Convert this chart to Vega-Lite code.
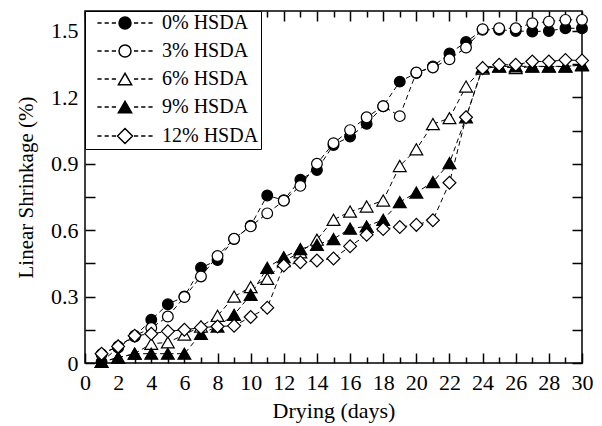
{
  "$schema": "https://vega.github.io/schema/vega-lite/v6.json",
  "autosize": {"type": "none"},
  "padding": {"left": 85, "top": 11, "right": 20, "bottom": 63},
  "width": 497,
  "height": 352,
  "background": "white",
  "data": {"values": [
    {"series":"0% HSDA","day":1,"value":0.005},{"series":"0% HSDA","day":2,"value":0.07},{"series":"0% HSDA","day":3,"value":0.12},{"series":"0% HSDA","day":4,"value":0.195},{"series":"0% HSDA","day":5,"value":0.265},{"series":"0% HSDA","day":6,"value":0.3},{"series":"0% HSDA","day":7,"value":0.43},{"series":"0% HSDA","day":8,"value":0.465},{"series":"0% HSDA","day":9,"value":0.56},{"series":"0% HSDA","day":10,"value":0.62},{"series":"0% HSDA","day":11,"value":0.757},{"series":"0% HSDA","day":12,"value":0.735},{"series":"0% HSDA","day":13,"value":0.828},{"series":"0% HSDA","day":14,"value":0.872},{"series":"0% HSDA","day":15,"value":0.985},{"series":"0% HSDA","day":16,"value":1.023},{"series":"0% HSDA","day":17,"value":1.08},{"series":"0% HSDA","day":18,"value":1.16},{"series":"0% HSDA","day":19,"value":1.271},{"series":"0% HSDA","day":20,"value":1.31},{"series":"0% HSDA","day":21,"value":1.34},{"series":"0% HSDA","day":22,"value":1.398},{"series":"0% HSDA","day":23,"value":1.45},{"series":"0% HSDA","day":24,"value":1.505},{"series":"0% HSDA","day":25,"value":1.505},{"series":"0% HSDA","day":26,"value":1.5},{"series":"0% HSDA","day":27,"value":1.497},{"series":"0% HSDA","day":28,"value":1.5},{"series":"0% HSDA","day":29,"value":1.512},{"series":"0% HSDA","day":30,"value":1.512},
    {"series":"3% HSDA","day":1,"value":0.04},{"series":"3% HSDA","day":2,"value":0.075},{"series":"3% HSDA","day":3,"value":0.123},{"series":"3% HSDA","day":4,"value":0.158},{"series":"3% HSDA","day":5,"value":0.21},{"series":"3% HSDA","day":6,"value":0.298},{"series":"3% HSDA","day":7,"value":0.391},{"series":"3% HSDA","day":8,"value":0.483},{"series":"3% HSDA","day":9,"value":0.561},{"series":"3% HSDA","day":10,"value":0.617},{"series":"3% HSDA","day":11,"value":0.676},{"series":"3% HSDA","day":12,"value":0.733},{"series":"3% HSDA","day":13,"value":0.8},{"series":"3% HSDA","day":14,"value":0.9},{"series":"3% HSDA","day":15,"value":0.993},{"series":"3% HSDA","day":16,"value":1.052},{"series":"3% HSDA","day":17,"value":1.11},{"series":"3% HSDA","day":18,"value":1.16},{"series":"3% HSDA","day":19,"value":1.115},{"series":"3% HSDA","day":20,"value":1.312},{"series":"3% HSDA","day":21,"value":1.335},{"series":"3% HSDA","day":22,"value":1.372},{"series":"3% HSDA","day":23,"value":1.425},{"series":"3% HSDA","day":24,"value":1.508},{"series":"3% HSDA","day":25,"value":1.512},{"series":"3% HSDA","day":26,"value":1.512},{"series":"3% HSDA","day":27,"value":1.535},{"series":"3% HSDA","day":28,"value":1.542},{"series":"3% HSDA","day":29,"value":1.55},{"series":"3% HSDA","day":30,"value":1.55},
    {"series":"6% HSDA","day":1,"value":0.005},{"series":"6% HSDA","day":2,"value":0.024},{"series":"6% HSDA","day":3,"value":0.042},{"series":"6% HSDA","day":4,"value":0.087},{"series":"6% HSDA","day":5,"value":0.093},{"series":"6% HSDA","day":6,"value":0.128},{"series":"6% HSDA","day":7,"value":0.165},{"series":"6% HSDA","day":8,"value":0.213},{"series":"6% HSDA","day":9,"value":0.3},{"series":"6% HSDA","day":10,"value":0.343},{"series":"6% HSDA","day":11,"value":0.38},{"series":"6% HSDA","day":12,"value":0.46},{"series":"6% HSDA","day":13,"value":0.5},{"series":"6% HSDA","day":14,"value":0.557},{"series":"6% HSDA","day":15,"value":0.647},{"series":"6% HSDA","day":16,"value":0.684},{"series":"6% HSDA","day":17,"value":0.707},{"series":"6% HSDA","day":18,"value":0.734},{"series":"6% HSDA","day":19,"value":0.89},{"series":"6% HSDA","day":20,"value":0.965},{"series":"6% HSDA","day":21,"value":1.079},{"series":"6% HSDA","day":22,"value":1.106},{"series":"6% HSDA","day":23,"value":1.249},{"series":"6% HSDA","day":24,"value":1.33},{"series":"6% HSDA","day":25,"value":1.339},{"series":"6% HSDA","day":26,"value":1.332},{"series":"6% HSDA","day":27,"value":1.339},{"series":"6% HSDA","day":28,"value":1.339},{"series":"6% HSDA","day":29,"value":1.339},{"series":"6% HSDA","day":30,"value":1.347},
    {"series":"9% HSDA","day":1,"value":0.005},{"series":"9% HSDA","day":2,"value":0.024},{"series":"9% HSDA","day":3,"value":0.042},{"series":"9% HSDA","day":4,"value":0.042},{"series":"9% HSDA","day":5,"value":0.042},{"series":"9% HSDA","day":6,"value":0.042},{"series":"9% HSDA","day":7,"value":0.132},{"series":"9% HSDA","day":8,"value":0.165},{"series":"9% HSDA","day":9,"value":0.218},{"series":"9% HSDA","day":10,"value":0.308},{"series":"9% HSDA","day":11,"value":0.43},{"series":"9% HSDA","day":12,"value":0.478},{"series":"9% HSDA","day":13,"value":0.515},{"series":"9% HSDA","day":14,"value":0.534},{"series":"9% HSDA","day":15,"value":0.56},{"series":"9% HSDA","day":16,"value":0.607},{"series":"9% HSDA","day":17,"value":0.617},{"series":"9% HSDA","day":18,"value":0.647},{"series":"9% HSDA","day":19,"value":0.727},{"series":"9% HSDA","day":20,"value":0.77},{"series":"9% HSDA","day":21,"value":0.817},{"series":"9% HSDA","day":22,"value":0.903},{"series":"9% HSDA","day":23,"value":1.11},{"series":"9% HSDA","day":24,"value":1.335},{"series":"9% HSDA","day":25,"value":1.34},{"series":"9% HSDA","day":26,"value":1.34},{"series":"9% HSDA","day":27,"value":1.34},{"series":"9% HSDA","day":28,"value":1.34},{"series":"9% HSDA","day":29,"value":1.34},{"series":"9% HSDA","day":30,"value":1.345},
    {"series":"12% HSDA","day":1,"value":0.042},{"series":"12% HSDA","day":2,"value":0.075},{"series":"12% HSDA","day":3,"value":0.123},{"series":"12% HSDA","day":4,"value":0.132},{"series":"12% HSDA","day":5,"value":0.143},{"series":"12% HSDA","day":6,"value":0.15},{"series":"12% HSDA","day":7,"value":0.16},{"series":"12% HSDA","day":8,"value":0.165},{"series":"12% HSDA","day":9,"value":0.168},{"series":"12% HSDA","day":10,"value":0.208},{"series":"12% HSDA","day":11,"value":0.25},{"series":"12% HSDA","day":12,"value":0.44},{"series":"12% HSDA","day":13,"value":0.455},{"series":"12% HSDA","day":14,"value":0.463},{"series":"12% HSDA","day":15,"value":0.472},{"series":"12% HSDA","day":16,"value":0.527},{"series":"12% HSDA","day":17,"value":0.579},{"series":"12% HSDA","day":18,"value":0.605},{"series":"12% HSDA","day":19,"value":0.614},{"series":"12% HSDA","day":20,"value":0.624},{"series":"12% HSDA","day":21,"value":0.645},{"series":"12% HSDA","day":22,"value":0.814},{"series":"12% HSDA","day":23,"value":1.11},{"series":"12% HSDA","day":24,"value":1.332},{"series":"12% HSDA","day":25,"value":1.347},{"series":"12% HSDA","day":26,"value":1.347},{"series":"12% HSDA","day":27,"value":1.362},{"series":"12% HSDA","day":28,"value":1.362},{"series":"12% HSDA","day":29,"value":1.369},{"series":"12% HSDA","day":30,"value":1.366}
  ]},
  "layer": [
    {
      "mark": {"type": "line", "color": "black", "strokeWidth": 1, "strokeDash": [5, 3.5]},
      "encoding": {
        "x": {"field": "day", "type": "quantitative", "scale": {"domain": [0, 30], "nice": false},
          "axis": {"orient": "bottom", "values": [0,2,4,6,8,10,12,14,16,18,20,22,24,26,28,30], "tickSize": -10, "labelPadding": 19, "labelFontSize": 22, "labelAngle": 0, "labelFlush": false, "title": "Drying (days)", "titleFontSize": 22, "titleY": 47, "titleBaseline": "middle"}},
        "y": {"field": "value", "type": "quantitative", "scale": {"domain": [0, 1.59], "nice": false},
          "axis": {"orient": "left", "values": [0,0.15,0.3,0.45,0.6,0.75,0.9,1.05,1.2,1.35,1.5], "tickSize": -10, "labelPadding": 17, "labelFontSize": 22, "labelFlush": false,
            "labelExpr": "indexof([0,0.3,0.6,0.9,1.2,1.5], datum.value) >= 0 ? format(datum.value, '~g') : ''",
            "title": "Linear Shrinkage  (%)", "titleFontSize": 21, "titleX": -59, "titleBaseline": "middle", "titleAngle": -90}},
        "detail": {"field": "series", "type": "nominal"},
        "order": {"field": "day", "type": "quantitative"}
      }
    },
    {
      "mark": {"type": "point", "filled": true, "stroke": "black", "strokeWidth": 1.2, "opacity": 1},
      "encoding": {
        "x": {"field": "day", "type": "quantitative",
          "axis": {"orient": "bottom", "values": [1,3,5,7,9,11,13,15,17,19,21,23,25,27,29], "tickSize": -6, "labels": false, "title": null}},
        "y": {"field": "value", "type": "quantitative",
          "axis": {"orient": "right", "values": [0,0.15,0.3,0.45,0.6,0.75,0.9,1.05,1.2,1.35,1.5], "tickSize": -10, "labels": false, "title": null}},
        "shape": {"condition": [
          {"test": "datum.series == '6% HSDA' || datum.series == '9% HSDA'", "value": "triangle-up"},
          {"test": "datum.series == '12% HSDA'", "value": "diamond"}], "value": "circle"},
        "fill": {"condition": {"test": "datum.series == '0% HSDA' || datum.series == '9% HSDA'", "value": "black"}, "value": "white"},
        "size": {"condition": {"test": "datum.series == '0% HSDA' || datum.series == '3% HSDA'", "value": 115}, "value": 165}
      }
    },
    {
      "mark": {"type": "point", "filled": true, "stroke": "black", "strokeWidth": 1.2, "opacity": 0},
      "encoding": {
        "x": {"field": "day", "type": "quantitative", "axis": null},
        "y": {"field": "value", "type": "quantitative", "axis": null},
        "shape": {"field": "series", "type": "nominal",
          "scale": {"domain": ["0% HSDA","3% HSDA","6% HSDA","9% HSDA","12% HSDA"],
            "range": [
              "M-4.6,0L-3.9,0M-3.4,0L-2.7,0M-2.2,0L-1.5,0M1.5,0L2.2,0M2.7,0L3.4,0M3.9,0L4.6,0M1,0A1,1,0,1,1,-1,0A1,1,0,1,1,1,0Z",
              "M-4.6,0L-3.9,0M-3.4,0L-2.7,0M-2.2,0L-1.5,0M1.5,0L2.2,0M2.7,0L3.4,0M3.9,0L4.6,0M1,0A1,1,0,1,1,-1,0A1,1,0,1,1,1,0Z",
              "M-4.6,0L-3.9,0M-3.4,0L-2.7,0M-2.2,0L-1.5,0M1.5,0L2.2,0M2.7,0L3.4,0M3.9,0L4.6,0M0,-0.95L-1.1,0.95L1.1,0.95Z",
              "M-4.6,0L-3.9,0M-3.4,0L-2.7,0M-2.2,0L-1.5,0M1.5,0L2.2,0M2.7,0L3.4,0M3.9,0L4.6,0M0,-0.95L-1.1,0.95L1.1,0.95Z",
              "M-4.6,0L-3.9,0M-3.4,0L-2.7,0M-2.2,0L-1.5,0M1.5,0L2.2,0M2.7,0L3.4,0M3.9,0L4.6,0M-1.25,0L0,-1.25L1.25,0L0,1.25Z"]},
          "legend": {"title": null, "orient": "top-left", "offset": 0, "padding": 2, "rowPadding": 8, "strokeColor": "black", "fillColor": "white",
            "symbolSize": 144, "symbolOffset": 28, "labelOffset": 27, "labelFontSize": 20, "labelColor": "black", "symbolOpacity": 1,
            "encode": {
              "legend": {"strokeWidth": {"value": 1.5}},
              "symbols": {
                "fill": {"value": {"expr": "datum.value == '0% HSDA' || datum.value == '9% HSDA' ? 'black' : 'white'"}},
                "stroke": {"value": {"expr": "'black'"}},
                "strokeWidth": {"value": {"expr": "1.2"}},
                "strokeOpacity": {"value": 1},
                "fillOpacity": {"value": 1},
                "opacity": {"value": 1}
              }}}},
        "fill": {"field": "series", "type": "nominal",
          "scale": {"domain": ["0% HSDA","3% HSDA","6% HSDA","9% HSDA","12% HSDA"], "range": ["black","white","white","black","white"]}}
      }
    },
    {
      "mark": {"type": "point", "opacity": 0},
      "encoding": {
        "x": {"field": "day", "type": "quantitative",
          "axis": {"orient": "top", "values": [0,2,4,6,8,10,12,14,16,18,20,22,24,26,28,30], "tickSize": -10, "labels": false, "title": null}},
        "y": {"field": "value", "type": "quantitative", "axis": null}
      }
    },
    {
      "mark": {"type": "point", "opacity": 0},
      "encoding": {
        "x": {"field": "day", "type": "quantitative",
          "axis": {"orient": "top", "values": [1,3,5,7,9,11,13,15,17,19,21,23,25,27,29], "tickSize": -6, "labels": false, "title": null}},
        "y": {"field": "value", "type": "quantitative", "axis": null}
      }
    }
  ],
  "config": {
    "view": {"stroke": "black", "strokeWidth": 1.5},
    "font": "Liberation Serif",
    "axis": {"labelFont": "Liberation Serif", "titleFont": "Liberation Serif", "labelColor": "black", "titleColor": "black", "tickColor": "black", "tickWidth": 1.5, "titleFontWeight": "normal", "grid": false, "domain": false},
    "legend": {"labelFont": "Liberation Serif"}
  }
}
